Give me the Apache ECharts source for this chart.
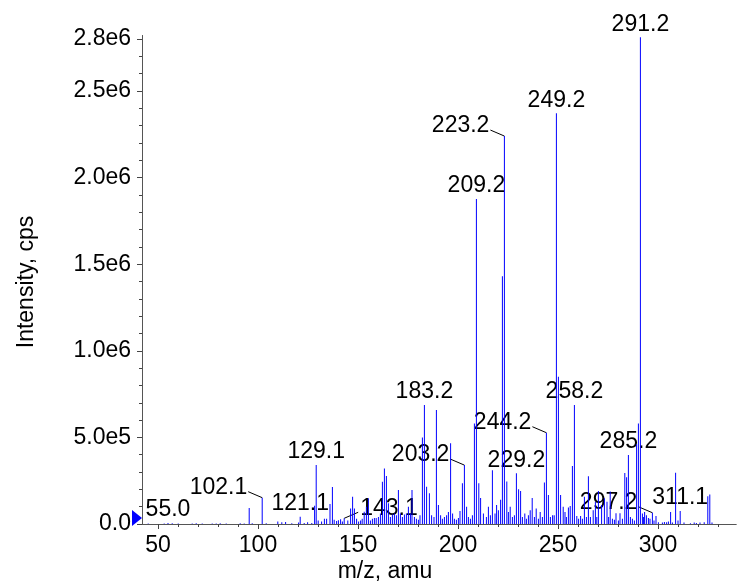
<!DOCTYPE html>
<html>
<head>
<meta charset="utf-8">
<script src="https://cdn.jsdelivr.net/npm/echarts@6/dist/echarts.min.js"></script>
<style>
html,body{margin:0;padding:0;background:#fff;}
#c{width:743px;height:583px;}
</style>
</head>
<body>
<div id="c"></div>
<script>
// ---- data (m/z, intensity in cps) ----
const peaksLow = [
  [45.1, 3000], [53.1, 3000], [55.0, 6000], [57.1, 4000], [60.1, 2500], [67.1, 3000],
  [69.1, 4000], [72.1, 2500], [77.1, 3000], [79.1, 3000], [81.1, 4000], [84.1, 3000],
  [91.1, 5000], [93.1, 3000], [95.6, 92000], [97.1, 4000], [102.1, 152000], [104.1, 4000],
  [109.9, 14000], [111.9, 10000], [113.8, 12000], [116.9, 5000], [120.3, 8000], [121.1, 42000],
  [123.1, 6000], [124.8, 10000], [126.9, 6000], [128.3, 106000], [129.1, 340000], [130.1, 20000],
  [131.8, 15000], [133.2, 30000], [134.3, 30000], [136.0, 115000], [137.2, 213000], [138.1, 25000],
  [139.3, 18000], [140.2, 22000], [141.3, 27000], [142.2, 15000], [143.1, 33000], [144.9, 20000],
  [146.3, 90000], [147.3, 157000], [148.2, 90000], [149.3, 30000], [150.3, 15000], [151.3, 20000],
  [152.1, 30000], [153.1, 71000], [154.2, 100000], [155.2, 148000], [156.2, 20000], [157.2, 30000],
  [158.2, 35000], [159.1, 35000], [160.2, 40000], [161.2, 60000], [162.2, 244000], [163.2, 320000],
  [164.2, 277000], [165.2, 120000], [166.2, 40000], [167.2, 55000], [168.2, 60000], [169.2, 50000]
];
const peaksMid = [
  [170.2, 196000], [171.2, 60000], [172.2, 40000], [173.2, 55000], [174.2, 60000], [175.2, 100000],
  [176.2, 60000], [177.0, 196000], [178.2, 40000], [179.2, 30000], [180.2, 25000], [181.0, 50000],
  [182.2, 500000], [183.2, 687000], [184.3, 215000], [185.7, 177000], [186.8, 50000], [188.0, 40000],
  [189.2, 658000], [190.2, 110000], [191.3, 50000], [192.2, 30000], [193.2, 40000], [194.3, 50000],
  [195.2, 70000], [196.3, 466000], [197.3, 60000], [198.2, 30000], [199.2, 25000], [200.2, 35000],
  [201.0, 75000], [202.2, 235000], [203.2, 340000], [204.3, 100000], [205.2, 40000], [206.2, 30000],
  [207.2, 50000], [208.2, 580000], [209.2, 1876000], [210.4, 236000], [211.3, 150000], [212.7, 60000],
  [214.2, 40000], [215.2, 100000], [216.2, 50000], [217.2, 310000], [218.5, 60000], [219.3, 110000],
  [220.2, 80000], [221.3, 140000], [222.2, 1430000], [223.2, 2240000], [224.4, 245000], [225.2, 70000],
  [226.1, 100000], [227.2, 40000], [228.2, 50000], [229.2, 293000], [230.3, 200000], [231.3, 190000],
  [232.2, 40000], [233.4, 60000], [234.2, 30000], [235.2, 50000], [236.1, 80000], [237.1, 150000],
  [238.2, 40000], [239.1, 90000], [240.2, 30000], [241.1, 70000], [242.2, 40000], [243.2, 240000],
  [244.2, 527000], [245.2, 167000], [246.2, 40000], [247.3, 50000], [248.1, 50000], [249.2, 2371000]
];
const peaksHigh = [
  [250.2, 850000], [251.3, 167000], [252.6, 100000], [253.5, 70000], [254.2, 40000], [255.2, 95000],
  [256.1, 104000], [257.2, 335000], [258.2, 687000], [259.4, 46000], [260.3, 30000], [261.3, 46000],
  [262.2, 30000], [263.2, 158000], [264.2, 40000], [265.2, 275000], [266.2, 40000], [267.6, 80000],
  [268.7, 129000], [269.4, 40000], [270.2, 190000], [271.8, 110000], [273.2, 148000], [274.5, 129000],
  [275.3, 40000], [276.1, 187000], [277.2, 30000], [278.2, 25000], [279.0, 62000], [280.2, 20000],
  [281.0, 62000], [282.2, 30000], [283.4, 295000], [284.3, 270000], [285.2, 398000], [286.2, 40000],
  [287.2, 30000], [288.2, 20000], [289.3, 460000], [290.2, 581000], [291.2, 2810000], [292.2, 60000],
  [292.8, 40000], [293.3, 70000], [294.2, 50000], [295.2, 35000], [296.0, 30000], [297.2, 65000],
  [298.0, 20000], [299.0, 46000], [300.2, 10000], [302.2, 8000], [303.2, 12000], [304.3, 10000],
  [305.2, 15000], [306.3, 70000], [307.2, 8000], [308.8, 296000], [310.0, 20000], [311.1, 75000],
  [313.0, 8000], [316.2, 5000], [318.1, 8000], [319.2, 6000], [321.0, 8000], [323.1, 10000],
  [324.9, 160000], [325.9, 170000], [327.0, 8000]
];
const annotatedMz = [55.0, 102.1, 121.1, 129.1, 143.1, 183.2, 203.2, 209.2, 223.2, 229.2, 244.2,
                     249.2, 258.2, 285.2, 291.2, 297.2, 311.1];
const xMajorTicks = [50, 100, 150, 200, 250, 300];
const xMinorTicks = [50,60,70,80,90,100,110,120,130,140,150,160,170,180,190,200,210,220,230,240,250,260,270,280,290,300,310,320,330];
const yMajorTicks = [0, 500000, 1000000, 1500000, 2000000, 2500000, 2800000];
const yMinorTicks = [0,1e5,2e5,3e5,4e5,5e5,6e5,7e5,8e5,9e5,1e6,1.1e6,1.2e6,1.3e6,1.4e6,1.5e6,1.6e6,1.7e6,1.8e6,1.9e6,2e6,2.1e6,2.2e6,2.3e6,2.4e6,2.5e6,2.6e6,2.7e6,2.8e6];
const xTitle = 'm/z, amu';
const yTitle = 'Intensity, cps';

// ---- styles ----
const FONT = '"Liberation Sans", Arial, Helvetica, sans-serif';
const FS = 23;
const leaderDir = { '102.1': -1, '203.2': -1, '223.2': -1, '244.2': -1, '297.2': -1, '143.1': 1 };

const allPeaks = peaksLow.concat(peaksMid, peaksHigh);
const chart = echarts.init(document.getElementById('c'), null, { renderer: 'canvas' });

const gridRect = { left: 142, right: 7, top: 35.6, bottom: 59 };
const axisCommon = { axisLine: { show: true, lineStyle: { color: '#555', width: 1 } }, splitLine: { show: false } };

chart.setOption({
  animation: false,
  backgroundColor: '#fff',
  grid: [Object.assign({}, gridRect), Object.assign({}, gridRect)],
  xAxis: [
    Object.assign({
      type: 'value', gridIndex: 0, min: 42, max: 339,
      axisTick: { show: true, customValues: xMajorTicks, length: 5, lineStyle: { color: '#444' } },
      axisLabel: { customValues: xMajorTicks, fontSize: FS, fontFamily: FONT, color: '#000', margin: 10 }
    }, axisCommon),
    Object.assign({
      type: 'value', gridIndex: 1, min: 42, max: 339,
      axisTick: { show: true, customValues: xMinorTicks, length: 3, lineStyle: { color: '#444' } },
      axisLabel: { show: false }
    }, axisCommon)
  ],
  yAxis: [
    Object.assign({
      type: 'value', gridIndex: 0, min: 0, max: 2820000,
      axisTick: { show: true, customValues: yMajorTicks, length: 5, lineStyle: { color: '#444' } },
      axisLabel: {
        customValues: yMajorTicks, fontSize: FS, fontFamily: FONT, color: '#000', margin: 11,
        formatter: v => v === 0 ? '0.0' : Number(v).toExponential(1).replace('e+', 'e')
      }
    }, axisCommon),
    Object.assign({
      type: 'value', gridIndex: 1, min: 0, max: 2820000,
      axisTick: { show: true, customValues: yMinorTicks, length: 3, lineStyle: { color: '#444' } },
      axisLabel: { show: false }
    }, axisCommon)
  ],
  series: [{
    type: 'bar', xAxisIndex: 0, yAxisIndex: 0, barWidth: 1, silent: true,
    itemStyle: { color: '#0000ff' },
    data: allPeaks
  }]
});

// ---- annotations placed through the chart's own scales ----
const graphics = [];
annotatedMz.forEach(m => {
  const pk = allPeaks.reduce((a, b) => Math.abs(b[0] - m) < Math.abs(a[0] - m) ? b : a);
  const p = chart.convertToPixel({ gridIndex: 0 }, [m, pk[1]]);
  const key = m.toFixed(1);
  const dir = leaderDir[key];
  if (dir) {
    const ex = p[0] + dir * 14, ey = p[1] - 6;
    graphics.push({ type: 'line', silent: true, shape: { x1: p[0], y1: p[1], x2: ex, y2: ey }, style: { stroke: '#000', lineWidth: 1 } });
    graphics.push({ type: 'text', silent: true, style: { text: key, x: ex + (dir < 0 ? -1 : 2), y: ey - 4, align: dir < 0 ? 'right' : 'left', verticalAlign: 'middle', font: FS + 'px ' + FONT, fill: '#000' } });
  } else {
    graphics.push({ type: 'text', silent: true, style: { text: key, x: p[0], y: p[1] - 13, align: 'center', verticalAlign: 'middle', font: FS + 'px ' + FONT, fill: '#000' } });
  }
});
// axis titles
graphics.push({ type: 'text', silent: true, style: { text: xTitle, x: 385, y: 572, align: 'center', verticalAlign: 'middle', font: FS + 'px ' + FONT, fill: '#000' } });
graphics.push({ type: 'text', silent: true, x: 27, y: 282, rotation: Math.PI / 2, style: { text: yTitle, x: 0, y: 0, align: 'center', verticalAlign: 'middle', font: FS + 'px ' + FONT, fill: '#000' } });
// baseline marker triangle
graphics.push({ type: 'polygon', silent: true, shape: { points: [[132, 510], [142, 518], [132, 526]] }, style: { fill: '#0000ff' } });

chart.setOption({ graphic: graphics });
</script>
</body>
</html>
